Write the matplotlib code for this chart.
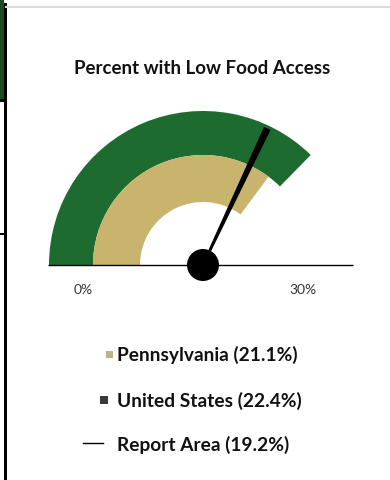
import numpy as np
import matplotlib
matplotlib.use("Agg")
import matplotlib.pyplot as plt
from matplotlib.patches import Wedge, Circle, Polygon, Rectangle

# Gauge data
title = "Percent with Low Food Access"
scale_min, scale_max = 0, 30
series_names = ["Pennsylvania", "United States", "Report Area"]
series_values = [21.1, 22.4, 19.2]
tick_labels = ["0%", "30%"]

GREEN = "#1d6b2f"
TAN = "#c9b46d"

W, H = 390, 481
fig = plt.figure(figsize=(W / 100, H / 100), dpi=100)
ax = fig.add_axes([0, 0, 1, 1])
ax.set_xlim(0, W)
ax.set_ylim(0, H)
ax.set_aspect("equal")
ax.axis("off")


def angle_of(v):
    return 180.0 - 180.0 * (v - scale_min) / (scale_max - scale_min)


cx, cy = 203, H - 266
r_out, r_mid, r_in = 154, 110, 63

pa, us, area = series_values

# United States band (outer), Pennsylvania band (inner)
ax.add_patch(Wedge((cx, cy), r_out, angle_of(us), 180, width=r_out - r_mid,
                   facecolor=GREEN, edgecolor="none"))
ax.add_patch(Wedge((cx, cy), r_mid, angle_of(pa), 180, width=r_mid - r_in,
                   facecolor=TAN, edgecolor="none"))

# baseline
ax.plot([48, 353], [cy, cy], color="black", lw=1.0, solid_capstyle="butt")

# needle for the report area: tapered wedge
th = np.deg2rad(angle_of(area))
d = np.array([np.cos(th), np.sin(th)])
n = np.array([-d[1], d[0]])
tip_r = 151
base_w, tip_w = 1.2, 3.6
pts = [
    (cx + n[0] * base_w, cy + n[1] * base_w),
    (cx + d[0] * tip_r + n[0] * tip_w, cy + d[1] * tip_r + n[1] * tip_w),
    (cx + d[0] * tip_r - n[0] * tip_w, cy + d[1] * tip_r - n[1] * tip_w),
    (cx - n[0] * base_w, cy - n[1] * base_w),
]
ax.add_patch(Polygon(pts, closed=True, facecolor="black", edgecolor="none"))
ax.add_patch(Circle((cx, cy), 16, facecolor="black", edgecolor="none", zorder=5))

# scale labels
ax.text(83, H - 290, tick_labels[0], ha="center", va="center",
        fontsize=10, color="#333333", family="Lato")
ax.text(303, H - 290, tick_labels[1], ha="center", va="center",
        fontsize=10, color="#333333", family="Lato")

# title
ax.text(202, H - 68, title, ha="center", va="center", fontsize=13.5,
        fontweight="bold", family="Lato", color="#111111")

# legend
leg_font = dict(fontsize=13.8, fontweight="bold", family="Lato", color="#111111",
                ha="left", va="center")
ax.text(117, H - 355, f"{series_names[0]} ({pa:.1f}%)", **leg_font)
ax.add_patch(Rectangle((106, H - 355 - 3.5), 7, 7, facecolor="#b9b38a", edgecolor="none"))
ax.text(117, H - 401, f"{series_names[1]} ({us:.1f}%)", **leg_font)
ax.add_patch(Rectangle((100, H - 401 - 4), 8, 8, facecolor="#3a3a3a", edgecolor="none"))
ax.text(117, H - 445, f"{series_names[2]} ({area:.1f}%)", **leg_font)
ax.plot([83, 103], [H - 444, H - 444], color="black", lw=1.0)

# panel edges
ax.add_patch(Rectangle((0, H - 100), 4, 100, facecolor="#1e4a22", edgecolor="none"))
ax.add_patch(Rectangle((3.5, 0), 3, H - 4, facecolor="black", edgecolor="none"))
ax.add_patch(Rectangle((0, H - 103), 4, 3, facecolor="black", edgecolor="none"))
ax.add_patch(Rectangle((0, H - 236), 4, 2, facecolor="black", edgecolor="none"))
ax.plot([6, W], [H - 8, H - 8], color="#dddddd", lw=1.5)

fig.savefig("out.png", dpi=100, facecolor="white")
